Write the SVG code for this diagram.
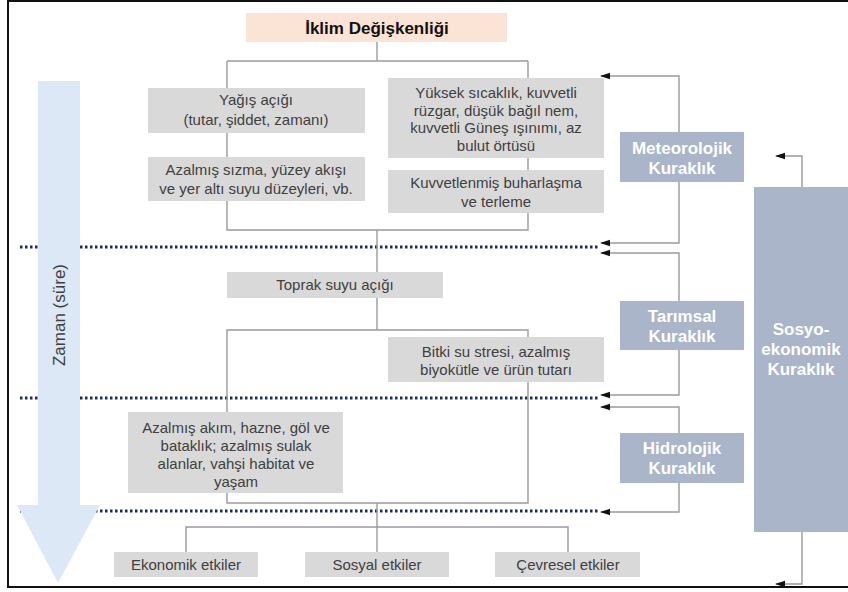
<svg xmlns="http://www.w3.org/2000/svg" width="848" height="592" viewBox="0 0 848 592">
<defs>
<marker id="ah" markerWidth="10" markerHeight="8" refX="9" refY="4" orient="auto" markerUnits="userSpaceOnUse">
<path d="M0,4 L10,0.8 L10,7.2 Z" fill="#111" transform="rotate(180 5 4)"/>
</marker>
<style>
.box{fill:#d9d9d9}
.dr{fill:#aab5c9}
.t{font-family:"Liberation Sans",Arial,sans-serif;font-size:15px;fill:#404040;text-anchor:middle}
.w{font-family:"Liberation Sans",Arial,sans-serif;font-size:17px;font-weight:bold;fill:#ffffff;text-anchor:middle}
.ln{fill:none;stroke:#9a9a9a;stroke-width:1.4}
.fb{fill:none;stroke:#9a9a9a;stroke-width:1.4}
.dot{stroke:#1c2a5c;stroke-width:3;stroke-dasharray:2.5 2.5;fill:none}
</style>
</defs>
<rect x="0" y="0" width="848" height="592" fill="#ffffff"/>
<g id="frame">
<path d="M848,1 H8 V587 H848" fill="none" stroke="#111" stroke-width="2"/>
</g>
<g id="timeline-dots">
<line class="dot" x1="20" y1="247" x2="598" y2="247"/>
<line class="dot" x1="20" y1="398" x2="598" y2="398"/>
<line class="dot" x1="20" y1="511" x2="598" y2="511"/>
</g>
<g id="time-arrow">
<path d="M38,81 H80 V505 H100 L58,583 L17,505 H38 Z" fill="#dce8f5"/>
<text transform="translate(65,315) rotate(-90)" font-family="'Liberation Sans',Arial,sans-serif" font-size="17" fill="#404040" text-anchor="middle">Zaman (süre)</text>
</g>
<g id="connectors">
<path class="ln" d="M377,42 V61"/>
<path class="ln" d="M227,61 H528"/>
<path class="ln" d="M227,61 V230 H528 V61"/>
<path class="ln" d="M377,230 V330"/>
<path class="ln" d="M227,412 V330 H528 V503 H227 V493"/>
<path class="ln" d="M377,503 V527"/>
<path class="ln" d="M186,552 V527 H568 V552"/>
<path class="ln" d="M377,527 V552"/>
<path class="fb" d="M679,132 V76 H601" marker-end="url(#ah)"/>
<path class="fb" d="M679,182 V243 H601" marker-end="url(#ah)"/>
<path class="fb" d="M679,301 V253 H601" marker-end="url(#ah)"/>
<path class="fb" d="M679,350 V395 H601" marker-end="url(#ah)"/>
<path class="fb" d="M679,433 V407 H601" marker-end="url(#ah)"/>
<path class="fb" d="M679,483 V512 H601" marker-end="url(#ah)"/>
<path class="fb" d="M802,187 V156 H776" marker-end="url(#ah)"/>
<path class="fb" d="M802,532 V584 H776" marker-end="url(#ah)"/>
</g>
<g id="iklim">
<rect x="246" y="13" width="261" height="29" fill="#fbe3d5"/>
<text x="377" y="34" font-family="'Liberation Sans',Arial,sans-serif" font-size="17" font-weight="bold" fill="#111" text-anchor="middle">İklim Değişkenliği</text>
</g>
<g id="yagis">
<rect class="box" x="148" y="88" width="217" height="45"/>
<text class="t" x="256" y="105">Yağış açığı</text>
<text class="t" x="256" y="125">(tutar, şiddet, zamanı)</text>
</g>
<g id="sizma">
<rect class="box" x="148" y="157" width="217" height="44"/>
<text class="t" x="256" y="175">Azalmış sızma, yüzey akışı</text>
<text class="t" x="256" y="194">ve yer altı suyu düzeyleri, vb.</text>
</g>
<g id="yuksek">
<rect class="box" x="388" y="78" width="216" height="80"/>
<text class="t" x="496" y="98">Yüksek sıcaklık, kuvvetli</text>
<text class="t" x="496" y="116">rüzgar, düşük bağıl nem,</text>
<text class="t" x="496" y="133">kuvvetli Güneş ışınımı, az</text>
<text class="t" x="496" y="151">bulut örtüsü</text>
</g>
<g id="buharlasma">
<rect class="box" x="388" y="170" width="216" height="43"/>
<text class="t" x="496" y="188">Kuvvetlenmiş buharlaşma</text>
<text class="t" x="496" y="207">ve terleme</text>
</g>
<g id="meteorolojik">
<rect class="dr" x="620" y="132" width="124" height="50"/>
<text class="w" x="682" y="154">Meteorolojik</text>
<text class="w" x="682" y="174">Kuraklık</text>
</g>
<g id="toprak">
<rect class="box" x="227" y="272" width="216" height="26"/>
<text class="t" x="335" y="290">Toprak suyu açığı</text>
</g>
<g id="bitki">
<rect class="box" x="388" y="337" width="216" height="45"/>
<text class="t" x="496" y="357">Bitki su stresi, azalmış</text>
<text class="t" x="496" y="375">biyokütle ve ürün tutarı</text>
</g>
<g id="tarimsal">
<rect class="dr" x="620" y="301" width="124" height="49"/>
<text class="w" x="682" y="322">Tarımsal</text>
<text class="w" x="682" y="342">Kuraklık</text>
</g>
<g id="akim">
<rect class="box" x="128" y="412" width="215" height="81"/>
<text class="t" x="236" y="433">Azalmış akım, hazne, göl ve</text>
<text class="t" x="236" y="451">bataklık; azalmış sulak</text>
<text class="t" x="236" y="469">alanlar, vahşi habitat ve</text>
<text class="t" x="236" y="487">yaşam</text>
</g>
<g id="hidrolojik">
<rect class="dr" x="620" y="433" width="124" height="50"/>
<text class="w" x="682" y="454">Hidrolojik</text>
<text class="w" x="682" y="474">Kuraklık</text>
</g>
<g id="sosyoekonomik">
<rect class="dr" x="754" y="187" width="94" height="345"/>
<text class="w" x="801" y="335">Sosyo-</text>
<text class="w" x="801" y="355">ekonomik</text>
<text class="w" x="801" y="375">Kuraklık</text>
</g>
<g id="ekonomik">
<rect class="box" x="114" y="552" width="144" height="25"/>
<text class="t" x="186" y="570">Ekonomik etkiler</text>
</g>
<g id="sosyal">
<rect class="box" x="305" y="552" width="144" height="25"/>
<text class="t" x="377" y="570">Sosyal etkiler</text>
</g>
<g id="cevresel">
<rect class="box" x="495" y="552" width="145" height="25"/>
<text class="t" x="568" y="570">Çevresel etkiler</text>
</g>
</svg>
